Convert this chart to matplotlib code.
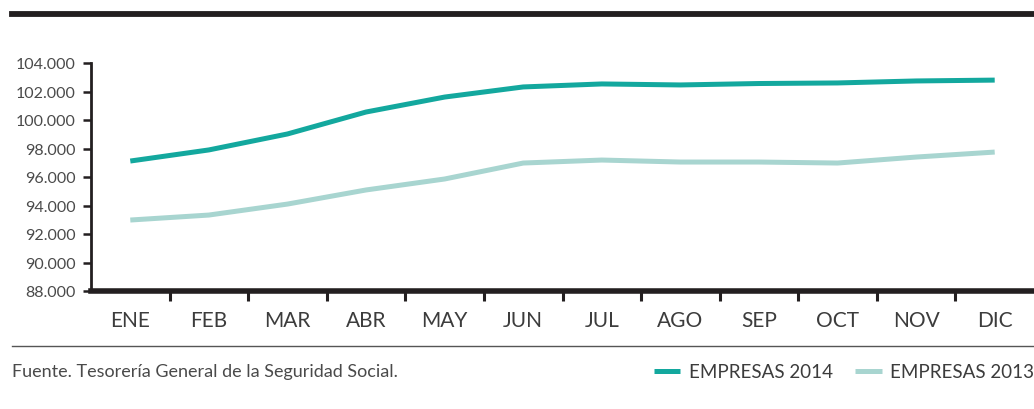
import matplotlib.pyplot as plt
from matplotlib.ticker import FuncFormatter, FixedLocator

plt.rcParams['font.family'] = ['Lato', 'DejaVu Sans']

# Data
meses = ['ENE', 'FEB', 'MAR', 'ABR', 'MAY', 'JUN', 'JUL', 'AGO', 'SEP', 'OCT', 'NOV', 'DIC']
empresas_2014 = [97120, 97900, 99020, 100560, 101610, 102320, 102530, 102460, 102560, 102600, 102740, 102800]
empresas_2013 = [92980, 93330, 94100, 95090, 95860, 96980, 97190, 97050, 97050, 96980, 97400, 97750]
y_ticks = [88000, 90000, 92000, 94000, 96000, 98000, 100000, 102000, 104000]

col_2014 = '#13a89e'
col_2013 = '#a8d5d0'
txt = '#3c3c3c'

fig = plt.figure(figsize=(10.34, 4.10), dpi=100)

# thick bar at the top
fig.add_artist(plt.Line2D([12 / 1034, 1.0], [1 - 15 / 410, 1 - 15 / 410], color='#231f20', lw=4.2))
# thin separator above the source note
fig.add_artist(plt.Line2D([12 / 1034, 1.0], [1 - 347 / 410, 1 - 347 / 410], color='#555555', lw=1.0))

ax = fig.add_axes([91 / 1034, 1 - 292 / 410, 1 - 91 / 1034, (292 - 64) / 410])

x = list(range(len(meses)))
ax.plot(x, empresas_2013, color=col_2013, lw=3.6, solid_capstyle='butt', label='EMPRESAS 2013')
ax.plot(x, empresas_2014, color=col_2014, lw=3.6, solid_capstyle='butt', label='EMPRESAS 2014')

ax.set_xlim(-0.5, len(meses) - 0.5)
ax.set_ylim(88000, 104000)

ax.set_yticks(y_ticks)
ax.yaxis.set_major_formatter(FuncFormatter(lambda v, p: f'{int(v):,}'.replace(',', '.')))
ax.tick_params(axis='y', direction='out', length=6, width=1.8, color='#231f20',
               labelsize=11.5, labelcolor='#4a4a4a', pad=5)

# separators between months as major ticks, labels on minor ticks
ax.xaxis.set_major_locator(FixedLocator([i + 0.5 for i in range(len(meses) - 1)]))
ax.xaxis.set_minor_locator(FixedLocator(x))
ax.set_xticklabels([], minor=False)
ax.set_xticklabels(meses, minor=True)
ax.tick_params(axis='x', which='major', direction='out', length=7, width=2.2, color='#231f20')
ax.tick_params(axis='x', which='minor', length=0, labelsize=15, labelcolor=txt, pad=14)

for s in ['top', 'right']:
    ax.spines[s].set_visible(False)
ax.spines['left'].set_linewidth(2.0)
ax.spines['bottom'].set_linewidth(4.0)
ax.spines['left'].set_color('#231f20')
ax.spines['bottom'].set_color('#231f20')

fig.text(12 / 1034, 1 - 372 / 410, 'Fuente. Tesorería General de la Seguridad Social.',
         fontsize=13, color='#4a4a4a', va='center', ha='left')

h14 = ax.lines[1]
h13 = ax.lines[0]
leg = fig.legend([h14, h13], ['EMPRESAS 2014', 'EMPRESAS 2013'], loc='center right',
                 bbox_to_anchor=(1.0, 1 - 373 / 410), ncol=2, frameon=False,
                 handlelength=1.4, handletextpad=0.45, columnspacing=1.2, borderpad=0,
                 borderaxespad=0, prop={'size': 13.5})
for t in leg.get_texts():
    t.set_color(txt)

fig.savefig('out.png', dpi=100)
